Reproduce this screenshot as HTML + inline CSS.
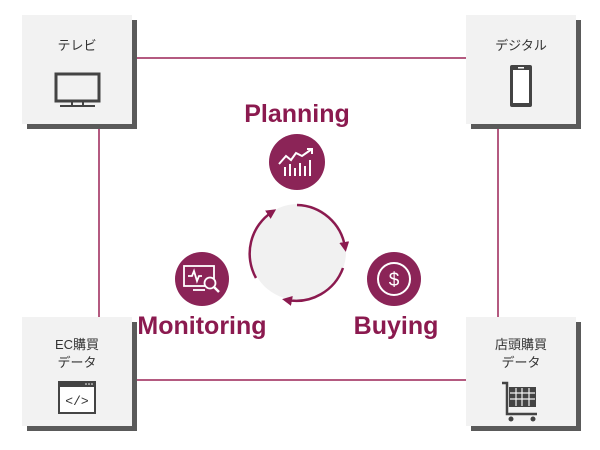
<!DOCTYPE html>
<html><head><meta charset="utf-8"><style>
body{margin:0;background:#fff;}
svg{display:block;font-family:"Liberation Sans","Noto Sans CJK JP",sans-serif;}
</style></head><body>
<svg width="600" height="450" viewBox="0 0 600 450" xmlns="http://www.w3.org/2000/svg">
<defs>
<marker id="ah" viewBox="0 0 10 10" refX="5" refY="5" markerWidth="4" markerHeight="4" orient="auto"><path d="M0,0 L10,5 L0,10 z" fill="#8b1a4f"/></marker>
</defs>
<g stroke="#9b2457" stroke-width="1.5" fill="none">
<line x1="131" y1="58" x2="466" y2="58"/>
<line x1="131" y1="380" x2="466" y2="380"/>
<line x1="99" y1="123" x2="99" y2="317"/>
<line x1="498" y1="123" x2="498" y2="317"/>
</g>
<!-- boxes -->
<g>
<rect x="27" y="20" width="110" height="109" fill="#5a5a5a"/>
<rect x="22" y="15" width="110" height="109" fill="#f2f2f2"/>
<rect x="471" y="20" width="110" height="109" fill="#5a5a5a"/>
<rect x="466" y="15" width="110" height="109" fill="#f2f2f2"/>
<rect x="27" y="322" width="110" height="109" fill="#5a5a5a"/>
<rect x="22" y="317" width="110" height="109" fill="#f2f2f2"/>
<rect x="471" y="322" width="110" height="109" fill="#5a5a5a"/>
<rect x="466" y="317" width="110" height="109" fill="#f2f2f2"/>
</g>
<g font-size="13" fill="#333" text-anchor="middle">
<text x="77" y="50">テレビ</text>
<text x="521" y="50">デジタル</text>
<text x="77" y="349">EC購買</text>
<text x="77" y="367">データ</text>
<text x="521" y="349">店頭購買</text>
<text x="521" y="367">データ</text>
</g>
<!-- TV icon -->
<rect x="56" y="74" width="43" height="27" fill="none" stroke="#444" stroke-width="3"/>
<line x1="60" y1="106" x2="95" y2="106" stroke="#444" stroke-width="2"/>
<line x1="72" y1="102" x2="72" y2="106" stroke="#444" stroke-width="2"/>
<line x1="83" y1="102" x2="83" y2="106" stroke="#444" stroke-width="2"/>
<!-- phone -->
<rect x="510" y="65" width="22" height="42" rx="2" fill="#444"/>
<rect x="513" y="70" width="16" height="33" fill="#fff"/>
<rect x="518" y="67" width="6" height="1.5" fill="#fff"/>
<!-- code window -->
<rect x="58" y="381" width="38" height="33" fill="#444"/>
<rect x="60" y="387" width="34" height="25" fill="#fff"/>
<text x="77" y="405" font-size="13" fill="#333" text-anchor="middle" font-family="Liberation Mono,monospace">&lt;/&gt;</text>
<circle cx="86" cy="384" r="0.8" fill="#fff"/><circle cx="89" cy="384" r="0.8" fill="#fff"/><circle cx="92" cy="384" r="0.8" fill="#fff"/>
<!-- cart -->
<g stroke="#444" stroke-width="2.5" fill="none">
<path d="M502,383 L507,383 L507,414 L537,414"/>
</g>
<rect x="509" y="387" width="27" height="20" fill="#444"/>
<g stroke="#f2f2f2" stroke-width="1.2">
<line x1="516" y1="388" x2="516" y2="406"/><line x1="522" y1="388" x2="522" y2="406"/><line x1="529" y1="388" x2="529" y2="406"/>
<line x1="510" y1="393" x2="535" y2="393"/><line x1="510" y1="399" x2="535" y2="399"/>
</g>
<circle cx="511" cy="419" r="2.5" fill="#444"/><circle cx="533" cy="419" r="2.5" fill="#444"/>
<!-- center -->
<circle cx="298" cy="252" r="48" fill="#f1f1f1"/>
<g stroke="#8b1a4f" stroke-width="2.5" fill="none" marker-end="url(#ah)">
<path d="M297,205 A50,50 0 0 1 345,247"/>
<path d="M343,268 A50,50 0 0 1 287,300"/>
<path d="M256,278 A50,50 0 0 1 272,212"/>
</g>
<!-- icons -->
<circle cx="297" cy="162" r="28" fill="#8b2457"/>
<g stroke="#fff" stroke-width="2" fill="none">
<path d="M279,164 L286,156 L291,160 L296,153 L302,156 L312,149"/>
<path d="M307,149 L312,149 L312,154"/>
<line x1="285" y1="176" x2="285" y2="167"/><line x1="290" y1="176" x2="290" y2="164"/><line x1="295" y1="176" x2="295" y2="168"/><line x1="300" y1="176" x2="300" y2="163"/><line x1="305" y1="176" x2="305" y2="166"/><line x1="310" y1="176" x2="310" y2="160"/>
</g>
<circle cx="202" cy="279" r="27" fill="#8b2457"/>
<g stroke="#fff" stroke-width="1.8" fill="none">
<rect x="184" y="266" width="30" height="20"/>
<path d="M188,276 L192,276 L194,271 L197,281 L199,276 L202,276"/>
<line x1="193" y1="290" x2="205" y2="290"/>
<circle cx="210" cy="283" r="5.5" fill="#8b2457"/>
<line x1="214" y1="287" x2="219" y2="292" stroke-width="2.5"/>
</g>
<circle cx="394" cy="279" r="27" fill="#8b2457"/>
<circle cx="394" cy="279" r="16" fill="none" stroke="#fff" stroke-width="2"/>
<text x="394" y="286" font-size="19" fill="#fff" text-anchor="middle">$</text>
<!-- labels -->
<g font-size="25" font-weight="bold" fill="#8b1a4f" text-anchor="middle">
<text x="297" y="122">Planning</text>
<text x="202" y="334">Monitoring</text>
<text x="396" y="334">Buying</text>
</g>
</svg>
</body></html>
